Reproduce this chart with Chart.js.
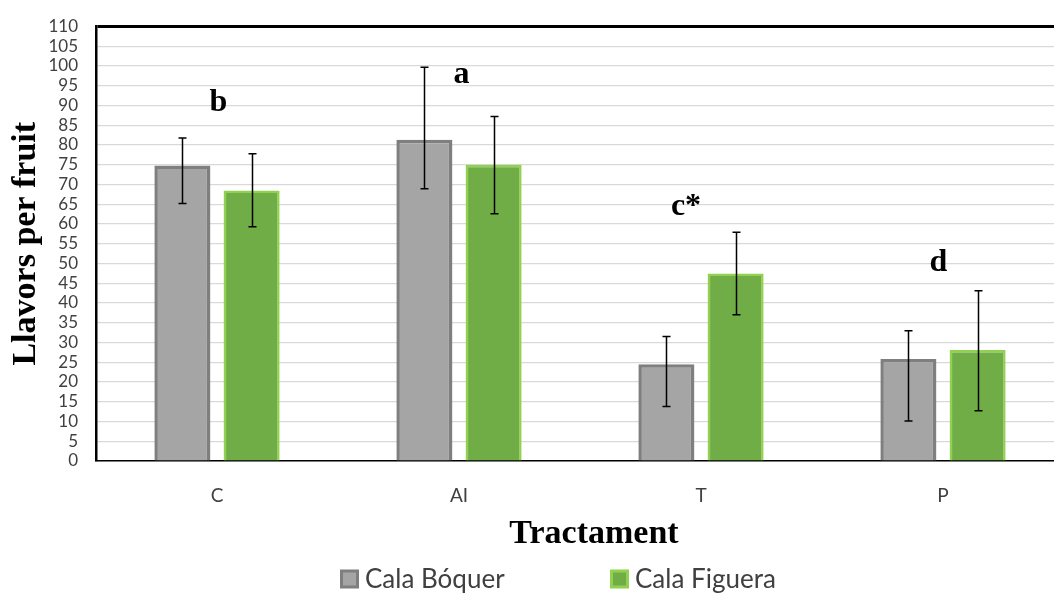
<!DOCTYPE html>
<html>
<head>
<meta charset="utf-8">
<script src="https://cdn.jsdelivr.net/npm/chart.js@4/dist/chart.umd.min.js"></script>
<style>
  html, body { margin: 0; padding: 0; background: #fff; overflow: hidden; }
  #wrap { width: 1080px; height: 593px; }
</style>
</head>
<body>
<div id="wrap"><canvas id="chart" width="1080" height="593"></canvas></div>
<script>
// Treatments
const categories = ['C', 'AI', 'T', 'P'];

// Mean seeds per fruit
const boquerMeans = [74.8, 81.3, 24.5, 25.8];
const figueraMeans = [68.5, 75.0, 47.5, 28.1];

// Error bar ends
const boquerLow = [65.2, 68.9, 13.8, 10.1];
const boquerHigh = [81.8, 99.7, 31.5, 33.0];
const figueraLow = [59.3, 62.6, 37.0, 12.7];
const figueraHigh = [77.8, 87.2, 57.9, 43.1];

// Significance groups and the level their letter sits at
const groupLetters = ['b', 'a', 'c*', 'd'];
const letterLevels = [88.6, 95.7, 62.2, 48.1];

const yMin = 0, yMax = 110, yStep = 5;

const GRAY_FILL = '#a5a5a5', GRAY_EDGE = '#7f7f7f';
const GREEN_FILL = '#70ad47', GREEN_EDGE = '#92d050';
const TEXT = '#404040';

const errorBars = {
  id: 'errorBars',
  afterDatasetsDraw(chart) {
    const { ctx, scales: { y } } = chart;
    ctx.save();
    ctx.strokeStyle = '#000';
    ctx.lineWidth = 1.5;
    chart.data.datasets.forEach((ds, di) => {
      const meta = chart.getDatasetMeta(di);
      meta.data.forEach((bar, i) => {
        const x = Math.round(bar.x) + 0.5;
        const yh = y.getPixelForValue(ds.errHigh[i]);
        const yl = y.getPixelForValue(ds.errLow[i]);
        ctx.beginPath();
        ctx.moveTo(x, yh); ctx.lineTo(x, yl);
        ctx.moveTo(x - 4, yh); ctx.lineTo(x + 4, yh);
        ctx.moveTo(x - 4, yl); ctx.lineTo(x + 4, yl);
        ctx.stroke();
      });
    });
    ctx.restore();
  }
};

const groupLabels = {
  id: 'groupLabels',
  afterDatasetsDraw(chart, args, opts) {
    const { ctx, scales: { x, y } } = chart;
    ctx.save();
    ctx.fillStyle = '#000';
    ctx.font = 'bold 32px "Liberation Serif", "Times New Roman", serif';
    ctx.textAlign = 'center';
    ctx.textBaseline = 'alphabetic';
    groupLetters.forEach((t, i) => {
      ctx.fillText(t, x.getPixelForValue(i) + opts.dx[i], y.getPixelForValue(letterLevels[i]));
    });
    ctx.restore();
  }
};

const footer = {
  id: 'footer',
  afterDraw(chart, args, opts) {
    const { ctx } = chart;
    ctx.save();
    // axis title
    ctx.fillStyle = '#000';
    ctx.font = 'bold 34px "Liberation Serif", "Times New Roman", serif';
    ctx.textAlign = 'center';
    ctx.textBaseline = 'middle';
    ctx.fillText('Tractament', opts.titleX, opts.titleY);
    // legend
    ctx.font = '26px Lato, "Open Sans", sans-serif';
    ctx.textAlign = 'left';
    chart.data.datasets.forEach((ds, i) => {
      const bx = opts.legendX[i], by = opts.legendY;
      const s = opts.box;
      ctx.fillStyle = ds.borderColor;
      ctx.fillRect(bx, by - s / 2, s, s);
      ctx.fillStyle = ds.backgroundColor;
      ctx.fillRect(bx + 3, by - s / 2 + 3, s - 6, s - 6);
      ctx.fillStyle = TEXT;
      ctx.fillText(ds.label, bx + s + 6, by + 1);
    });
    ctx.restore();
  }
};

new Chart(document.getElementById('chart'), {
  type: 'bar',
  data: {
    labels: categories,
    datasets: [
      {
        label: 'Cala Bóquer',
        data: boquerMeans,
        errLow: boquerLow,
        errHigh: boquerHigh,
        backgroundColor: GRAY_FILL,
        borderColor: GRAY_EDGE,
        borderWidth: 3.5,
        borderSkipped: 'bottom'
      },
      {
        label: 'Cala Figuera',
        data: figueraMeans,
        errLow: figueraLow,
        errHigh: figueraHigh,
        backgroundColor: GREEN_FILL,
        borderColor: GREEN_EDGE,
        borderWidth: 2.5,
        borderSkipped: 'bottom'
      }
    ]
  },
  options: {
    responsive: false,
    animation: false,
    events: [],
    layout: { padding: { left: 0, right: 16, top: 24, bottom: 0 } },
    datasets: { bar: { categoryPercentage: 0.572, barPercentage: 0.81 } },
    scales: {
      x: {
        grid: { display: false, drawTicks: false },
        border: { color: '#000', width: 1.5 },
        ticks: {
          color: TEXT,
          padding: 23,
          font: { family: 'Lato, "Open Sans", sans-serif', size: 19 }
        },
        afterFit(s) { s.height = 132; }
      },
      y: {
        min: yMin,
        max: yMax,
        border: { color: '#000', width: 2.5 },
        grid: {
          drawTicks: false,
          color: (c) => c.tick && c.tick.value === yMax ? '#000' : '#d9d9d9',
          lineWidth: (c) => c.tick && c.tick.value === yMax ? 3 : 1.2
        },
        ticks: {
          stepSize: yStep,
          autoSkip: false,
          color: TEXT,
          padding: 18,
          font: { family: 'Lato, "Open Sans", sans-serif', size: 17, lineHeight: 1 }
        },
        title: {
          display: true,
          text: 'Llavors per fruit',
          color: '#000',
          padding: { top: 6, bottom: 0 },
          font: { family: '"Liberation Serif", "Times New Roman", serif', size: 34, weight: 'bold' }
        },
        afterFit(s) { s.width = 96; }
      }
    },
    plugins: {
      legend: { display: false },
      tooltip: { enabled: false },
      groupLabels: { dx: [1.5, 2.5, -15, -4.5] },
      footer: { titleX: 594, titleY: 534, legendX: [340, 610], legendY: 579, box: 19 }
    }
  },
  plugins: [errorBars, groupLabels, footer]
});
</script>
</body>
</html>
